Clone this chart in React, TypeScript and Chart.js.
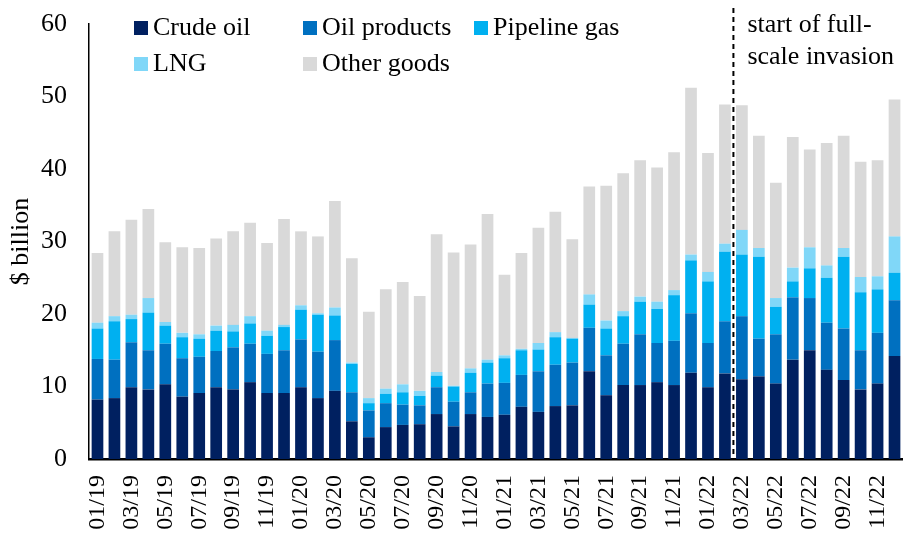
import React, { useEffect, useRef } from "react";
import { Chart, registerables } from "chart.js";

Chart.register(...registerables);

const months = [
  "01/19", "02/19", "03/19", "04/19", "05/19", "06/19", "07/19", "08/19", "09/19", "10/19", "11/19", "12/19",
  "01/20", "02/20", "03/20", "04/20", "05/20", "06/20", "07/20", "08/20", "09/20", "10/20", "11/20", "12/20",
  "01/21", "02/21", "03/21", "04/21", "05/21", "06/21", "07/21", "08/21", "09/21", "10/21", "11/21", "12/21",
  "01/22", "02/22", "03/22", "04/22", "05/22", "06/22", "07/22", "08/22", "09/22", "10/22", "11/22", "12/22",
];

const crudeOil = [
  8.2, 8.4, 9.9, 9.6, 10.3, 8.6, 9.1, 9.9, 9.6, 10.6, 9.1, 9.1,
  9.9, 8.4, 9.4, 5.2, 3.0, 4.4, 4.7, 4.8, 6.2, 4.5, 6.2, 5.8,
  6.1, 7.2, 6.5, 7.3, 7.4, 12.1, 8.8, 10.2, 10.2, 10.6, 10.2, 11.9,
  9.9, 11.8, 11.0, 11.4, 10.4, 13.7, 15.0, 12.3, 10.9, 9.6, 10.4, 14.2,
];
const oilProducts = [
  5.6, 5.3, 6.2, 5.4, 5.6, 5.3, 5.0, 5.0, 5.8, 5.3, 5.4, 5.9,
  6.6, 6.4, 7.0, 4.0, 3.7, 3.3, 2.8, 2.6, 3.7, 3.4, 3.0, 4.6,
  4.4, 4.4, 5.6, 5.7, 5.9, 6.0, 5.5, 5.7, 7.0, 5.4, 6.1, 8.2,
  6.1, 7.2, 8.7, 5.2, 6.8, 8.6, 7.2, 6.5, 7.1, 5.4, 7.0, 7.7,
];
const pipelineGas = [
  4.2, 5.3, 3.2, 5.2, 2.5, 2.9, 2.5, 2.8, 2.2, 2.8, 2.5, 3.2,
  4.1, 5.1, 3.4, 3.9, 1.0, 1.3, 1.7, 1.3, 1.6, 2.1, 2.7, 2.9,
  3.4, 3.4, 3.0, 3.8, 3.3, 3.2, 3.7, 3.8, 4.5, 4.7, 6.3, 7.3,
  8.5, 9.6, 8.5, 11.3, 3.8, 2.2, 4.1, 6.2, 9.9, 8.0, 6.0, 3.8,
];
const lng = [
  0.8, 0.7, 0.6, 2.0, 0.5, 0.6, 0.6, 0.7, 0.9, 1.0, 0.7, 0.3,
  0.6, 0.2, 1.1, 0.2, 0.7, 0.7, 1.1, 0.7, 0.5, 0.1, 0.6, 0.4,
  0.4, 0.2, 0.9, 0.7, 0.1, 1.4, 1.1, 0.7, 0.7, 1.0, 0.7, 0.8,
  1.3, 1.1, 3.4, 1.2, 1.2, 1.9, 2.9, 1.7, 1.2, 2.1, 1.8, 5.0,
];
const otherGoods = [
  9.6, 11.7, 13.1, 12.3, 11.0, 11.8, 11.9, 12.0, 12.9, 12.9, 12.1, 14.6,
  10.2, 10.6, 14.7, 14.4, 11.9, 13.7, 14.1, 13.1, 19.0, 18.4, 17.1, 20.1,
  11.1, 13.2, 15.9, 16.6, 13.6, 14.9, 18.6, 19.0, 18.8, 18.5, 19.0, 23.0,
  16.4, 19.2, 17.2, 15.5, 15.9, 18.0, 13.5, 16.9, 15.5, 15.9, 16.0, 18.9,
];

const seriesNames = ["Crude oil", "Oil products", "Pipeline gas", "LNG", "Other goods"];
const seriesColors = ["#002060", "#0070C0", "#00B0F0", "#80D7F8", "#D9D9D9"];
const annotationLines = ["start of full-", "scale invasion"];
const invasionAfter = "02/22";
const yTicks = [0, 10, 20, 30, 40, 50, 60];

const FONT = '"Liberation Serif", "Times New Roman", serif';

export default function App() {
  const ref = useRef<HTMLCanvasElement>(null);

  useEffect(() => {
    document.body.style.margin = "0";
    const canvas = ref.current;
    if (!canvas) return;

    const overlay = {
      id: "overlay",
      afterDraw(chart: any) {
        const ctx = chart.ctx;
        const xs = chart.scales.x;
        const area = chart.chartArea;
        const i = months.indexOf(invasionAfter);
        const lx = (xs.getPixelForValue(i) + xs.getPixelForValue(i + 1)) / 2;
        ctx.save();
        ctx.strokeStyle = "#000";
        ctx.lineWidth = 2;
        ctx.setLineDash([5, 4]);
        ctx.beginPath();
        ctx.moveTo(lx, 8);
        ctx.lineTo(lx, area.bottom);
        ctx.stroke();
        ctx.setLineDash([]);
        ctx.fillStyle = "#000";
        ctx.font = `26px ${FONT}`;
        ctx.textBaseline = "middle";
        ctx.textAlign = "left";
        annotationLines.forEach((t, k) => {
          ctx.fillText(t, lx + 14, 25 + k * 32);
        });
        const colX = [134, 303, 474];
        const rowY = [28, 64];
        seriesNames.forEach((name, k) => {
          const cx = colX[k % 3];
          const cy = rowY[Math.floor(k / 3)];
          ctx.fillStyle = seriesColors[k];
          ctx.fillRect(cx, cy - 7, 14, 14);
          ctx.fillStyle = "#000";
          ctx.fillText(name, cx + 19, cy);
        });
        ctx.restore();
      },
    };

    const series = [crudeOil, oilProducts, pipelineGas, lng, otherGoods];

    const chart = new Chart(canvas, {
      type: "bar",
      data: {
        labels: months,
        datasets: series.map((d, k) => ({
          label: seriesNames[k],
          data: d,
          backgroundColor: seriesColors[k],
          borderWidth: 0,
          categoryPercentage: 1,
          barPercentage: 0.69,
        })),
      },
      options: {
        animation: false,
        responsive: true,
        maintainAspectRatio: false,
        layout: { padding: { top: 24, right: 0, left: 0, bottom: 0 } },
        plugins: {
          legend: { display: false },
          tooltip: { enabled: false },
        },
        scales: {
          x: {
            stacked: true,
            grid: { display: false, drawTicks: false },
            border: { display: true, color: "#000", width: 2.5 },
            ticks: {
              autoSkip: false,
              maxRotation: 90,
              minRotation: 90,
              padding: 16,
              color: "#000",
              font: { size: 24, family: FONT },
              callback: (_v: any, idx: number) => (idx % 2 === 0 ? months[idx] : ""),
            },
            afterFit: (s: any) => {
              s.height = 76;
              s.paddingLeft = 0;
              s.paddingRight = 0;
            },
          },
          y: {
            stacked: true,
            min: yTicks[0],
            max: yTicks[yTicks.length - 1],
            grid: { display: false, drawTicks: false },
            border: { display: true, color: "#000", width: 1.5 },
            ticks: {
              stepSize: 10,
              padding: 22,
              color: "#000",
              font: { size: 26, family: FONT },
            },
            title: {
              display: true,
              text: "$ billion",
              color: "#000",
              font: { size: 26, family: FONT },
              padding: { top: 6, bottom: 0 },
            },
            afterFit: (s: any) => {
              s.width = 89;
              s.paddingTop = 0;
              s.paddingBottom = 0;
            },
          },
        },
      },
      plugins: [overlay],
    });

    return () => chart.destroy();
  }, []);

  return (
    <div style={{ width: 903, height: 535, position: "relative" }}>
      <canvas ref={ref} />
    </div>
  );
}
